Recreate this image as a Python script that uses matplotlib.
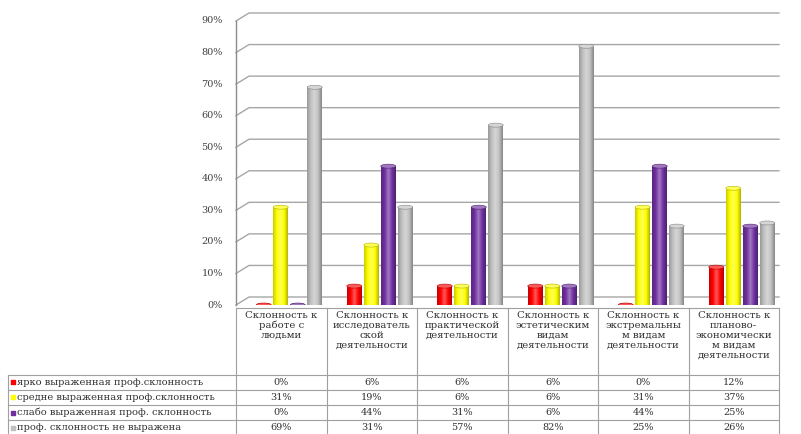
import numpy as np
import matplotlib
matplotlib.use('Agg')
import matplotlib.pyplot as plt
import matplotlib.colors as mcolors
from matplotlib.colors import LinearSegmentedColormap
from matplotlib.patches import Ellipse

plt.rcParams['font.family'] = ['DejaVu Serif', 'Liberation Serif']

categories = [
    'Склонность к\nработе с\nлюдьми',
    'Склонность к\nисследователь\nской\nдеятельности',
    'Склонность к\nпрактической\nдеятельности',
    'Склонность к\nэстетическим\nвидам\nдеятельности',
    'Склонность к\nэкстремальны\nм видам\nдеятельности',
    'Склонность к\nпланово-\nэкономически\nм видам\nдеятельности',
]
series_names = [
    'ярко выраженная проф.склонность',
    'средне выраженная проф.склонность',
    'слабо выраженная проф. склонность',
    'проф. склонность не выражена',
]
strong = [0, 6, 6, 6, 0, 12]
medium = [31, 19, 6, 6, 31, 37]
weak = [0, 44, 31, 6, 44, 25]
none_ = [69, 31, 57, 82, 25, 26]
series = [strong, medium, weak, none_]
colors = ['#FF0000', '#FFFF00', '#7030A0', '#C0C0C0']
yticks = [0, 10, 20, 30, 40, 50, 60, 70, 80, 90]

W, H = 801, 434
fig = plt.figure(figsize=(W / 100, H / 100), dpi=100)

# pixel geometry of the plot
x_left, x_right = 236, 779
y_zero, y_top = 305, 21
ax = fig.add_axes([x_left / W, (H - y_zero) / H,
                   (x_right - x_left) / W, (y_zero - y_top) / H])
ax.set_xlim(-0.5, 5.5)
ax.set_ylim(0, 90)
ax.axis('off')

px_x = 6.0 / (x_right - x_left)      # data units per pixel
px_y = 90.0 / (y_zero - y_top)
dx, dy = 13 * px_x, 8 * px_y

# 3D-style walls and gridlines
for v in yticks:
    ax.plot([-0.5, -0.5 + dx, 5.5], [v, v + dy, v + dy], color='#A6A6A6',
            lw=1.0, clip_on=False, zorder=1)
ax.plot([-0.5, -0.5], [0, 90], color='#8C8C8C', lw=1.0, clip_on=False, zorder=1)
for v in yticks:
    ax.text(-0.5 - 13 * px_x, v, f'{v}%', ha='right', va='center',
            fontsize=7, color='#404040')

x = np.arange(len(categories))
bw = 15 * px_x
step = 17 * px_x
shift = 8 * px_x
eh = 4 * px_y
grad = np.linspace(0, 1, 64).reshape(1, -1)

for i, (vals, col) in enumerate(zip(series, colors)):
    base = np.array(mcolors.to_rgb(col))
    dark = base * 0.7
    light = base + (1 - base) * 0.35
    cmap = LinearSegmentedColormap.from_list(
        f'c{i}', [base * 0.8, base, light, base, dark])
    pos = x + shift + (i - 1.5) * step
    bars = ax.bar(pos, vals, bw, color=col, zorder=3, linewidth=0)
    for b, v in zip(bars, vals):
        cx = b.get_x() + b.get_width() / 2
        ax.add_patch(Ellipse((cx, 0), bw, eh, facecolor=dark, edgecolor='none',
                             zorder=2.9))
        if v > 0:
            im = ax.imshow(grad, cmap=cmap, aspect='auto', zorder=3.1,
                           extent=(b.get_x(), b.get_x() + b.get_width(), 0, v))
            im.set_clip_path(b)
        ax.add_patch(Ellipse((cx, v), bw, eh, facecolor=light, edgecolor=dark,
                             lw=0.4, zorder=4))
ax.set_xlim(-0.5, 5.5)
ax.set_ylim(0, 90)

# data table below, in pixel coordinates
tb = fig.add_axes([0, 0, 1, 1])
tb.set_xlim(0, W)
tb.set_ylim(H, 0)
tb.axis('off')

col_w = (x_right - x_left) / len(categories)
top_y = 308
head_bot = 374.5
row_h = 15.2
leg_left = 8
line_c = '#A0A0A0'

tb.plot([x_left, x_right], [top_y, top_y], color=line_c, lw=0.8)
for k in range(len(categories) + 1):
    xx = x_left + k * col_w
    tb.plot([xx, xx], [top_y, H], color=line_c, lw=0.8)
tb.plot([leg_left, leg_left], [head_bot, H], color=line_c, lw=0.8)
for r in range(len(series) + 1):
    yy = head_bot + r * row_h
    tb.plot([leg_left, x_right], [yy, yy], color=line_c, lw=0.8)

for k, cat in enumerate(categories):
    tb.text(x_left + (k + 0.5) * col_w, top_y + 2.5, cat, ha='center', va='top',
            fontsize=7.3, color='#303030', linespacing=1.15)

for r, (name, vals, col) in enumerate(zip(series_names, series, colors)):
    yc = head_bot + (r + 0.5) * row_h
    tb.scatter([leg_left + 5], [yc], s=10, marker='s', color=col, zorder=3)
    tb.text(leg_left + 9, yc, name, ha='left', va='center', fontsize=7.1,
            color='#303030')
    for k, v in enumerate(vals):
        tb.text(x_left + (k + 0.5) * col_w, yc, f'{v}%', ha='center',
                va='center', fontsize=7, color='#303030')

fig.savefig('out.png', dpi=100)
